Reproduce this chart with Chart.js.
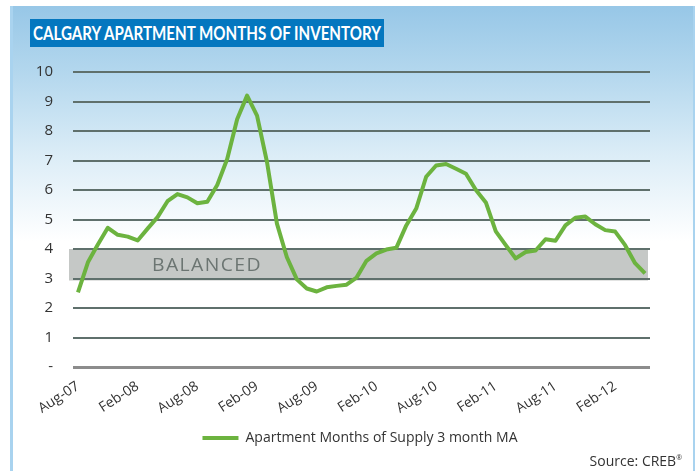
<!DOCTYPE html>
<html>
<head>
<meta charset="utf-8">
<script src="https://cdn.jsdelivr.net/npm/chart.js@4.4.1/dist/chart.umd.min.js"></script>
<style>
  html, body { margin: 0; padding: 0; background: #fff; }
  body { width: 699px; height: 471px; position: relative; overflow: hidden; font-family: 'Open Sans', sans-serif; }
  #panel {
    position: absolute; left: 10px; top: 6px; width: 680px; height: 470px;
    border-left: 3px solid #a9d3ef; border-right: 2px solid #a9d3ef;
    background: linear-gradient(to bottom, #97c7e7 0px, #b5d8ee 70px, #dcedf7 150px, #ffffff 235px);
  }
  #title { position: absolute; left: 30px; top: 19px; width: 354px; height: 28px; background: #0477bf; overflow: hidden; }
  #title span {
    position: absolute; left: 3px; top: 3px; color: #fff; font-family: Lato, sans-serif; font-size: 19px; font-weight: 700;
    white-space: nowrap; line-height: 22px; transform-origin: 0 50%;
  }
  #chart { position: absolute; left: 0; top: 0; }
  #source { position: absolute; right: 17px; top: 451px; font-size: 14px; color: #333; }
  #source sup { font-size: 7px; }
</style>
</head>
<body>
<div id="panel"></div>
<canvas id="chart" width="699" height="471"></canvas>
<div id="title"><span>CALGARY APARTMENT MONTHS OF INVENTORY</span></div>
<div id="source">Source: CREB<sup>®</sup></div>
<script>
// monthly categories, Aug-07 .. May-12
const months = [
  'Aug-07', 'Sep-07', 'Oct-07', 'Nov-07', 'Dec-07',
  'Jan-08', 'Feb-08', 'Mar-08', 'Apr-08', 'May-08', 'Jun-08', 'Jul-08', 'Aug-08', 'Sep-08', 'Oct-08', 'Nov-08', 'Dec-08',
  'Jan-09', 'Feb-09', 'Mar-09', 'Apr-09', 'May-09', 'Jun-09', 'Jul-09', 'Aug-09', 'Sep-09', 'Oct-09', 'Nov-09', 'Dec-09',
  'Jan-10', 'Feb-10', 'Mar-10', 'Apr-10', 'May-10', 'Jun-10', 'Jul-10', 'Aug-10', 'Sep-10', 'Oct-10', 'Nov-10', 'Dec-10',
  'Jan-11', 'Feb-11', 'Mar-11', 'Apr-11', 'May-11', 'Jun-11', 'Jul-11', 'Aug-11', 'Sep-11', 'Oct-11', 'Nov-11', 'Dec-11',
  'Jan-12', 'Feb-12', 'Mar-12', 'Apr-12', 'May-12'
];

// Apartment months of supply, 3 month MA
const monthsOfSupply = [
  2.53, 3.55, 4.15, 4.72, 4.48, 4.42, 4.29, 4.69, 5.08, 5.62, 5.86, 5.75, 5.55, 5.60, 6.17, 7.05, 8.40, 9.20, 8.52, 6.95,
  4.86, 3.72, 2.97, 2.66, 2.56, 2.70, 2.75, 2.79, 3.03, 3.60, 3.85, 3.98, 4.04, 4.80, 5.37, 6.45, 6.83, 6.88, 6.72, 6.55,
  6.00, 5.58, 4.60, 4.13, 3.68, 3.90, 3.95, 4.33, 4.28, 4.80, 5.06, 5.10, 4.84, 4.64, 4.59, 4.13, 3.52, 3.17
];

const xTickLabels = ['Aug-07', 'Feb-08', 'Aug-08', 'Feb-09', 'Aug-09', 'Feb-10', 'Aug-10', 'Feb-11', 'Aug-11', 'Feb-12'];
const yTickLabels = ['-', '1', '2', '3', '4', '5', '6', '7', '8', '9', '10'];
const balancedRange = [3, 4];

const seriesName = 'Apartment Months of Supply 3 month MA';
const lineColor = '#6cb33f';
const font = "'Open Sans', sans-serif";

// fit the title into its box
const titleSpan = document.querySelector('#title span');
titleSpan.style.transform = 'scaleX(' + (348 / titleSpan.offsetWidth) + ')';

// grey "balanced" band behind the gridlines
const balancedBand = {
  id: 'balancedBand',
  beforeDraw(chart) {
    const { ctx, chartArea: a, scales: { y } } = chart;
    const top = y.getPixelForValue(balancedRange[1]);
    const bottom = y.getPixelForValue(balancedRange[0]);
    ctx.save();
    ctx.fillStyle = '#c5c8c6';
    ctx.fillRect(a.left - 4, top, a.right - a.left + 2, bottom - top + 2);
    ctx.fillStyle = '#6c7572';
    ctx.font = '18px ' + font;
    ctx.letterSpacing = '1.3px';
    const w = ctx.measureText('BALANCED').width;
    ctx.textBaseline = 'middle';
    ctx.translate(a.left + 79, (top + bottom) / 2 + 2);
    ctx.scale(110 / w, 1);
    ctx.fillText('BALANCED', 0, 0);
    ctx.restore();
  }
};

new Chart(document.getElementById('chart'), {
  type: 'line',
  data: {
    labels: months,
    datasets: [{
      label: seriesName,
      data: monthsOfSupply,
      borderColor: lineColor,
      backgroundColor: lineColor,
      borderWidth: 4,
      pointRadius: 0,
      tension: 0,
      borderJoinStyle: 'round'
    }]
  },
  options: {
    responsive: false,
    animation: false,
    layout: { padding: { top: 72, left: 21, right: 0, bottom: 16 } },
    scales: {
      x: {
        offset: true,
        grid: { display: false },
        border: { display: false },
        afterFit: (s) => { s.height = 53; },
        ticks: {
          autoSkip: false,
          minRotation: 33,
          maxRotation: 33,
          padding: 3,
          color: '#333',
          font: { family: font, size: 14 },
          callback: function (value) {
            const lab = this.getLabelForValue(value);
            return xTickLabels.includes(lab) ? lab : '';
          }
        }
      },
      y: {
        min: 0,
        max: 10,
        afterFit: (s) => { s.width = 52; },
        border: { display: false },
        grid: {
          drawTicks: false,
          color: (c) => c.tick && c.tick.value === 0 ? '#8c8c8c' : '#5f706c',
          lineWidth: (c) => c.tick && c.tick.value === 0 ? 3 : 2
        },
        ticks: {
          stepSize: 1,
          padding: 20,
          color: '#333',
          font: { family: font, size: 15 },
          callback: (v) => yTickLabels[v]
        }
      },
      y2: {
        position: 'right',
        min: 0,
        max: 10,
        afterFit: (s) => { s.width = 49; },
        grid: { display: false },
        border: { display: false },
        ticks: { display: false }
      }
    },
    plugins: {
      tooltip: { enabled: false },
      legend: {
        position: 'bottom',
        labels: {
          boxWidth: 36,
          boxHeight: 4,
          padding: 11,
          color: '#333',
          font: { family: font, size: 14 },
          generateLabels: (chart) => Chart.defaults.plugins.legend.labels.generateLabels(chart)
            .map((l) => ({ ...l, lineWidth: 0 }))
        }
      }
    }
  },
  plugins: [balancedBand]
});
</script>
</body>
</html>
